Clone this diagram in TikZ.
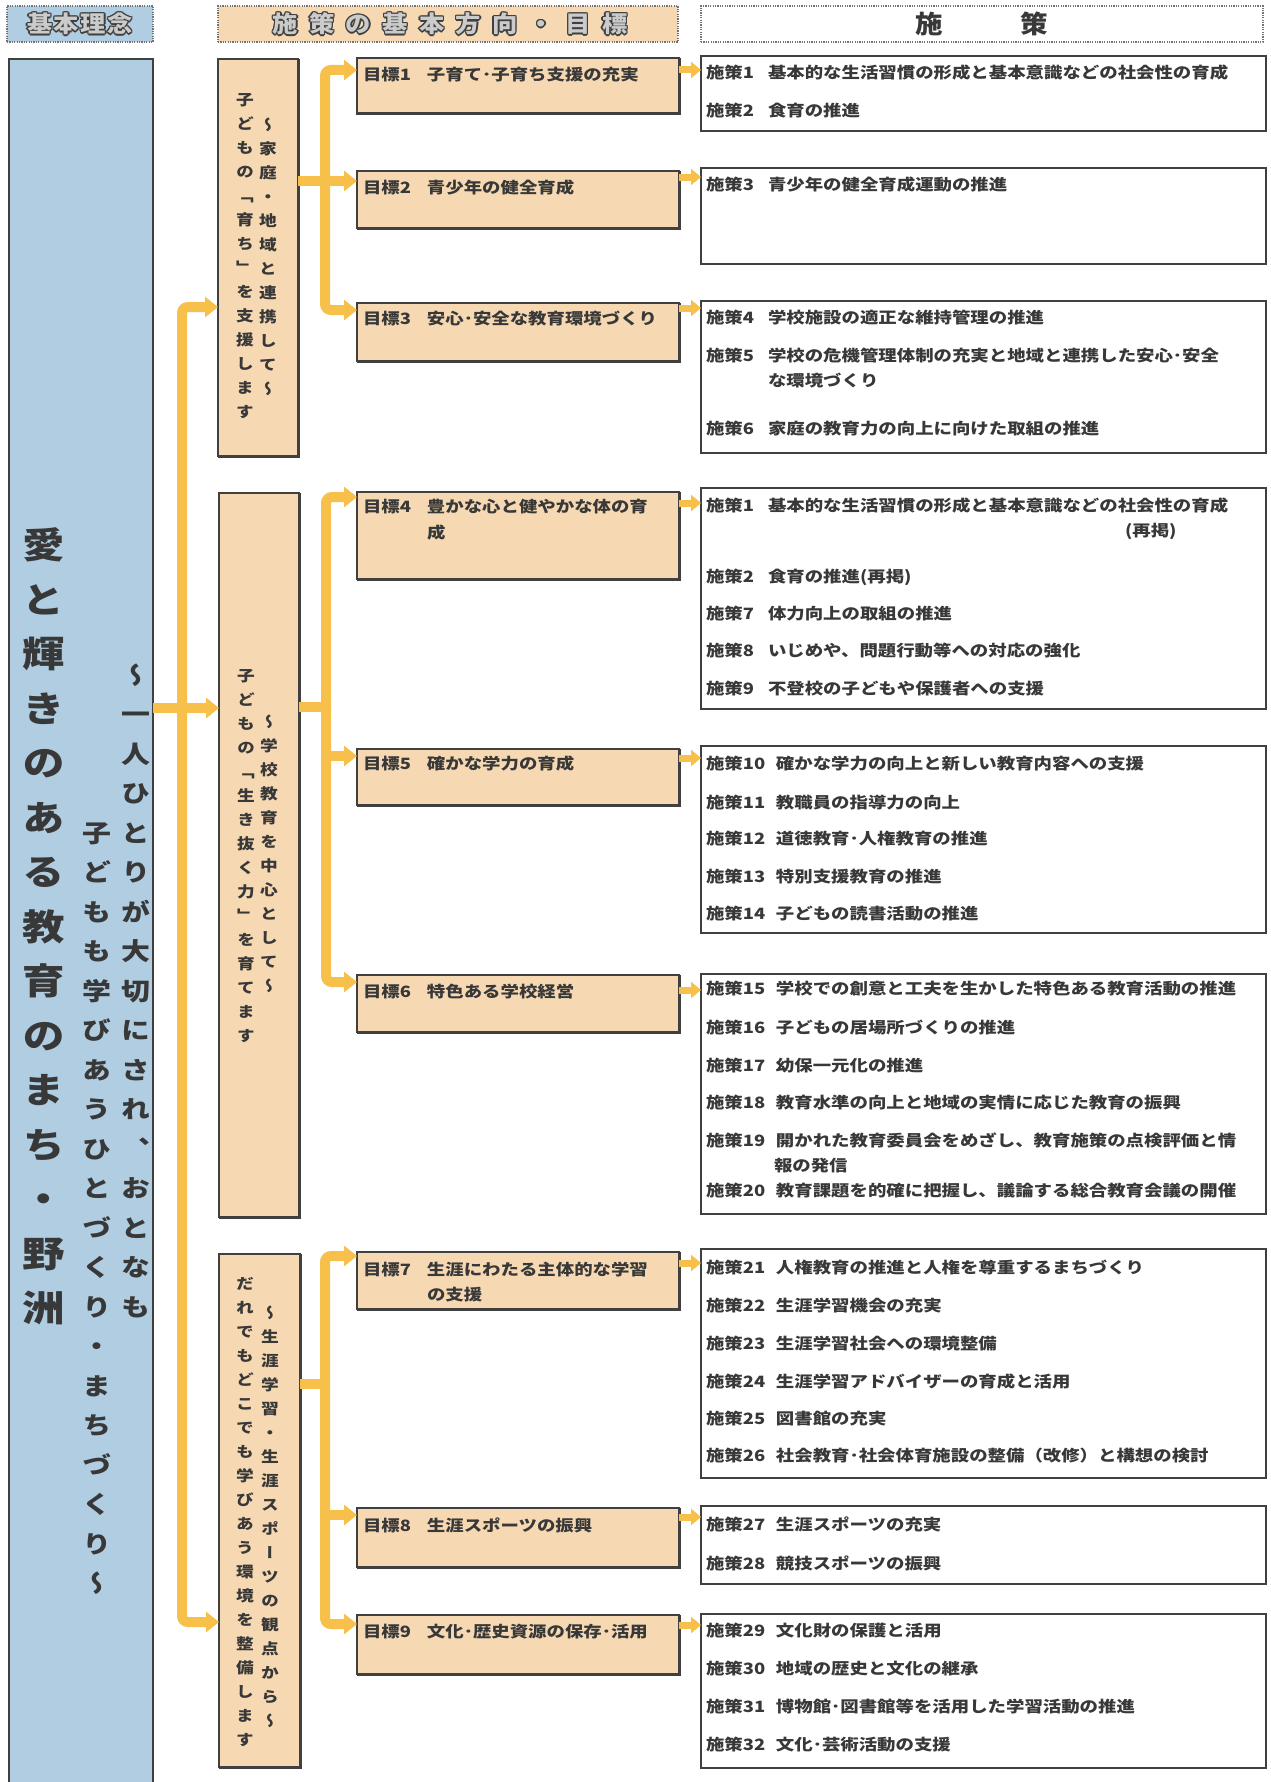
\documentclass[tikz,border=0pt]{standalone}
\usepackage{fontspec}
\usepackage{graphicx}
\usetikzlibrary{arrows.meta}
\setmainfont{Noto Sans CJK JP}[FakeStretch=1.18]
\newfontfamily\jpv{Noto Sans CJK JP}[FakeStretch=1.18,RawFeature={+vert}]
\newfontfamily\jph{Noto Sans CJK JP}[FakeStretch=1.1]
\definecolor{bluefill}{HTML}{B0CDE2}
\definecolor{peachfill}{HTML}{F6D9B3}
\definecolor{yel}{HTML}{F6C04A}
\definecolor{ink}{HTML}{383838}
\definecolor{edgec}{HTML}{404040}
\definecolor{hdrgray}{HTML}{CBCBCB}
\makeatletter
\def\vt@stop{VTSTOP}
\newdimen\vt@pitch
\newcommand\vtext[2]{\vt@pitch=#1\relax\vbox{\baselineskip=\vt@pitch\lineskiplimit=-\maxdimen\lineskip=0pt\relax\vt@loop#2\vt@stop}}
\def\vt@loop#1{\ifx#1\vt@stop\else\hbox to 1.2em{\hss\raisebox{0pt}[0.88em][0.12em]{#1}\hss}\expandafter\vt@loop\fi}
\newcommand\hspaced[2]{\vt@pitch=#1\relax\hbox{\hs@loop#2\vt@stop}}
\def\hs@loop#1{\ifx#1\vt@stop\else\hbox to \vt@pitch{\hss#1\hss}\expandafter\hs@loop\fi}
\makeatother
\newcommand\rectnode[6]{\node[#1,anchor=north west,minimum width={(#5-#3)*0.5pt},minimum height={(#6-#4)*0.5pt}] (#2) at (#3,#4) {};}
\newcommand\polnode[5]{\node[pol] (#1) at (706,#2) {\makebox[#3][l]{#4}#5};}
\newcommand\goalnode[4]{\node[pol] (#1) at (363,#2) {\makebox[32pt][l]{#3}#4};}
\begin{document}
\begin{tikzpicture}[x=0.5pt,y=-0.5pt,
  tx/.style={inner sep=0pt,outer sep=0pt,text=ink},
  pol/.style={tx,anchor=base west,font=\fontsize{7.8pt}{9pt}\selectfont\bfseries},
  vtx/.style={tx,anchor=north,font=\jpv\fontsize{7.5pt}{9pt}\selectfont\bfseries},
  hdrtext/.style={inner sep=0pt,outer sep=0pt,font=\jph\fontsize{11.5pt}{13pt}\selectfont\bfseries},
  goalbox/.style={draw=edgec,fill=peachfill,line width=0.8pt,inner sep=0pt,outer sep=0pt},
  polbox/.style={draw=edgec,fill=white,line width=0.7pt,inner sep=0pt,outer sep=0pt},
  bluebox/.style={draw=edgec,fill=bluefill,line width=0.8pt,inner sep=0pt,outer sep=0pt},
  hdrbox/.style={draw=black!55,dash pattern=on 0.6pt off 0.6pt,line width=0.9pt,inner sep=0pt,outer sep=0pt},
  yl/.style={draw=yel,line width=5pt},
  ys/.style={draw=yel,line width=3.5pt},
  Tri/.tip={Triangle[length=6.5pt,width=10pt]},
  Tris/.tip={Triangle[length=5pt,width=8pt]}]
\fill[white] (0,0) rectangle (1270,1782);
\useasboundingbox (0,0) rectangle (1270,1782);
% headers
\rectnode{hdrbox,fill=bluefill}{h1}{7}{6}{153}{42}
\rectnode{hdrbox,fill=peachfill}{h2}{218}{6}{678}{42}
\rectnode{hdrbox,fill=white}{h3}{701}{6}{1263}{42}
\foreach \a in {0,45,...,315}{
  \node[hdrtext,text=edgec,shift={(\a:0.7pt)}] (h1o\a) at (80,24) {\hspaced{13.4pt}{基本理念}};
  \node[hdrtext,text=edgec,shift={(\a:0.7pt)}] (h2o\a) at (450,24) {\hspaced{18.3pt}{施策の基本方向・目標}};
}
\node[hdrtext,text=hdrgray] (h1t) at (80,24) {\hspaced{13.4pt}{基本理念}};
\node[hdrtext,text=hdrgray] (h2t) at (450,24) {\hspaced{18.3pt}{施策の基本方向・目標}};
\node[hdrtext,text=ink,font=\jph\fontsize{12.5pt}{14pt}\selectfont\bfseries] (h3t) at (982,24) {\hspaced{52.5pt}{施策}};
% main blue box
\rectnode{bluebox}{blue}{9}{59}{153}{1800}
\node[vtx,font=\jpv\fontsize{18pt}{20pt}\selectfont\bfseries] (mainA) at (44,527) {\vtext{27.25pt}{愛と輝きのある教育のまち・野洲}};
\node[vtx,font=\jpv\fontsize{12.25pt}{14pt}\selectfont\bfseries] (mainB) at (136,662.75) {\vtext{19.75pt}{〜一人ひとりが大切にされ、おとなも}};
\node[vtx,font=\jpv\fontsize{12.25pt}{14pt}\selectfont\bfseries] (mainC) at (97,820.75) {\vtext{19.75pt}{子どもも学びあうひとづくり・まちづくり〜}};
% tall boxes
\rectnode{goalbox}{bx1}{218}{59}{298}{456}
\rectnode{goalbox}{bx2}{219}{493}{299}{1217}
\rectnode{goalbox}{bx3}{219}{1254}{300}{1767}
\node[vtx] (bx1l) at (245,92.5) {\vtext{12pt}{子どもの「育ち」を支援します}};
\node[vtx] (bx1r) at (268,117.5) {\vtext{12pt}{〜家庭・地域と連携して〜}};
\node[vtx] (bx2l) at (246,668.5) {\vtext{12pt}{子どもの「生き抜く力」を育てます}};
\node[vtx] (bx2r) at (269,714.5) {\vtext{12pt}{〜学校教育を中心として〜}};
\node[vtx] (bx3l) at (245,1276.5) {\vtext{12pt}{だれでもどこでも学びあう環境を整備します}};
\node[vtx] (bx3r) at (270,1305.5) {\vtext{12pt}{〜生涯学習・生涯スポーツの観点から〜}};
% goal boxes
\rectnode{goalbox}{g1}{357}{58}{679}{114}
\rectnode{goalbox}{g2}{357}{171}{679}{228}
\rectnode{goalbox}{g3}{357}{303}{679}{361}
\rectnode{goalbox}{g4}{357}{492}{679}{579}
\rectnode{goalbox}{g5}{357}{749}{679}{805}
\rectnode{goalbox}{g6}{357}{975}{679}{1032}
\rectnode{goalbox}{g7}{357}{1252}{679}{1309}
\rectnode{goalbox}{g8}{357}{1508}{679}{1567}
\rectnode{goalbox}{g9}{357}{1615}{679}{1674}
% policy boxes
\rectnode{polbox}{pA}{701}{56}{1266}{131}
\rectnode{polbox}{pB}{701}{168}{1266}{264}
\rectnode{polbox}{pC}{701}{301}{1266}{453}
\rectnode{polbox}{pD}{701}{488}{1266}{709}
\rectnode{polbox}{pE}{701}{746}{1266}{933}
\rectnode{polbox}{pF}{701}{974}{1266}{1214}
\rectnode{polbox}{pG}{701}{1249}{1266}{1478}
\rectnode{polbox}{pH}{701}{1506}{1266}{1584}
\rectnode{polbox}{pI}{701}{1614}{1266}{1768}
\foreach \n in {g1,g2,g3,g4,g5,g6,g7,g8,g9,bx1,bx2,bx3}
  \draw[edgec,line width=1.5pt] (\n.south west) -- (\n.south east) -- (\n.north east);
\foreach \n in {pA,pB,pC,pD,pE,pF,pG,pH,pI}
  \draw[edgec,line width=1.3pt] (\n.south west) -- (\n.south east);
% goal texts
\goalnode{g1t}{81}{目標1}{子育て･子育ち支援の充実}
\goalnode{g2t}{193}{目標2}{青少年の健全育成}
\goalnode{g3t}{324}{目標3}{安心･安全な教育環境づくり}
\goalnode{g4t}{512}{目標4}{豊かな心と健やかな体の育}
\node[pol] (g4u) at (427,538) {成};
\goalnode{g5t}{769}{目標5}{確かな学力の育成}
\goalnode{g6t}{997}{目標6}{特色ある学校経営}
\goalnode{g7t}{1275}{目標7}{生涯にわたる主体的な学習}
\node[pol] (g7u) at (427,1300) {の支援};
\goalnode{g8t}{1531}{目標8}{生涯スポーツの振興}
\goalnode{g9t}{1637}{目標9}{文化･歴史資源の保存･活用}
% policy texts
\polnode{p1a}{79}{31pt}{施策1}{基本的な生活習慣の形成と基本意識などの社会性の育成}
\polnode{p2a}{117}{31pt}{施策2}{食育の推進}
\polnode{p3}{191}{31pt}{施策3}{青少年の健全育成運動の推進}
\polnode{p4}{323}{31pt}{施策4}{学校施設の適正な維持管理の推進}
\polnode{p5}{361}{31pt}{施策5}{学校の危機管理体制の充実と地域と連携した安心･安全}
\node[pol] (p5u) at (768,386) {な環境づくり};
\polnode{p6}{434}{31pt}{施策6}{家庭の教育力の向上に向けた取組の推進}
\polnode{p1d}{511}{31pt}{施策1}{基本的な生活習慣の形成と基本意識などの社会性の育成}
\node[pol] (p1r) at (1125,536) {(再掲)};
\polnode{p2d}{582}{31pt}{施策2}{食育の推進(再掲)}
\polnode{p7}{619}{31pt}{施策7}{体力向上の取組の推進}
\polnode{p8}{656}{31pt}{施策8}{いじめや、問題行動等への対応の強化}
\polnode{p9}{694}{31pt}{施策9}{不登校の子どもや保護者への支援}
\polnode{p10}{769}{35pt}{施策10}{確かな学力の向上と新しい教育内容への支援}
\polnode{p11}{808}{35pt}{施策11}{教職員の指導力の向上}
\polnode{p12}{844}{35pt}{施策12}{道徳教育･人権教育の推進}
\polnode{p13}{882}{35pt}{施策13}{特別支援教育の推進}
\polnode{p14}{919}{35pt}{施策14}{子どもの読書活動の推進}
\polnode{p15}{994}{35pt}{施策15}{学校での創意と工夫を生かした特色ある教育活動の推進}
\polnode{p16}{1033}{35pt}{施策16}{子どもの居場所づくりの推進}
\polnode{p17}{1071}{35pt}{施策17}{幼保一元化の推進}
\polnode{p18}{1108}{35pt}{施策18}{教育水準の向上と地域の実情に応じた教育の振興}
\polnode{p19}{1146}{35pt}{施策19}{開かれた教育委員会をめざし、教育施策の点検評価と情}
\node[pol] (p19u) at (774,1171) {報の発信};
\polnode{p20}{1196}{35pt}{施策20}{教育課題を的確に把握し、議論する総合教育会議の開催}
\polnode{p21}{1273}{35pt}{施策21}{人権教育の推進と人権を尊重するまちづくり}
\polnode{p22}{1311}{35pt}{施策22}{生涯学習機会の充実}
\polnode{p23}{1349}{35pt}{施策23}{生涯学習社会への環境整備}
\polnode{p24}{1387}{35pt}{施策24}{生涯学習アドバイザーの育成と活用}
\polnode{p25}{1424}{35pt}{施策25}{図書館の充実}
\polnode{p26}{1461}{35pt}{施策26}{社会教育･社会体育施設の整備（改修）と構想の検討}
\polnode{p27}{1530}{35pt}{施策27}{生涯スポーツの充実}
\polnode{p28}{1569}{35pt}{施策28}{競技スポーツの振興}
\polnode{p29}{1636}{35pt}{施策29}{文化財の保護と活用}
\polnode{p30}{1674}{35pt}{施策30}{地域の歴史と文化の継承}
\polnode{p31}{1712}{35pt}{施策31}{博物館･図書館等を活用した学習活動の推進}
\polnode{p32}{1750}{35pt}{施策32}{文化･芸術活動の支援}
% connector coordinates
\coordinate (j0) at (182,708);
\coordinate (yb1) at (0,307);
\coordinate (yb3) at (0,1622);
\coordinate (k1) at (325,181);
\coordinate (k2) at (326,707);
\coordinate (k3) at (325,1384);
\coordinate (yg1) at (0,70);
\coordinate (yg3) at (0,310);
\coordinate (yg4) at (0,497);
\coordinate (yg5) at (0,756);
\coordinate (yg6) at (0,982);
\coordinate (yg7) at (0,1256);
\coordinate (yg8) at (0,1515);
\coordinate (yg9) at (0,1624);
% trunk
\draw[yl,-{Tri},rounded corners=3pt] (j0) |- (bx1.west |- yb1);
\draw[yl,-{Tri},rounded corners=3pt] (j0) |- (bx3.west |- yb3);
\draw[yl,-{Tri}] (blue.east |- j0) -- (bx2.west |- j0);
% branch 1
\draw[yl,-{Tri}] (bx1.east |- k1) -- (g2.west |- k1);
\draw[yl,-{Tri},rounded corners=3pt] (k1) |- (g1.west |- yg1);
\draw[yl,-{Tri},rounded corners=3pt] (k1) |- (g3.west |- yg3);
% branch 2
\draw[yl] (bx2.east |- k2) -- (k2);
\draw[yl,-{Tri},rounded corners=3pt] (k2) |- (g4.west |- yg4);
\draw[yl,-{Tri},rounded corners=3pt] (k2) |- (g6.west |- yg6);
\draw[yl,-{Tri}] (k2 |- yg5) -- (g5.west |- yg5);
% branch 3
\draw[yl] (bx3.east |- k3) -- (k3);
\draw[yl,-{Tri},rounded corners=3pt] (k3) |- (g7.west |- yg7);
\draw[yl,-{Tri},rounded corners=3pt] (k3) |- (g9.west |- yg9);
\draw[yl,-{Tri}] (k3 |- yg8) -- (g8.west |- yg8);
% goal to policy arrows
\coordinate (yp1) at (0,70);
\coordinate (yp2) at (0,177);
\coordinate (yp3) at (0,308);
\coordinate (yp4) at (0,503);
\coordinate (yp5) at (0,758);
\coordinate (yp6) at (0,990);
\coordinate (yp7) at (0,1263);
\coordinate (yp8) at (0,1517);
\coordinate (yp9) at (0,1625);
\draw[ys,-{Tris}] (g1.east |- yp1) -- (pA.west |- yp1);
\draw[ys,-{Tris}] (g2.east |- yp2) -- (pB.west |- yp2);
\draw[ys,-{Tris}] (g3.east |- yp3) -- (pC.west |- yp3);
\draw[ys,-{Tris}] (g4.east |- yp4) -- (pD.west |- yp4);
\draw[ys,-{Tris}] (g5.east |- yp5) -- (pE.west |- yp5);
\draw[ys,-{Tris}] (g6.east |- yp6) -- (pF.west |- yp6);
\draw[ys,-{Tris}] (g7.east |- yp7) -- (pG.west |- yp7);
\draw[ys,-{Tris}] (g8.east |- yp8) -- (pH.west |- yp8);
\draw[ys,-{Tris}] (g9.east |- yp9) -- (pI.west |- yp9);
\end{tikzpicture}
\end{document}
